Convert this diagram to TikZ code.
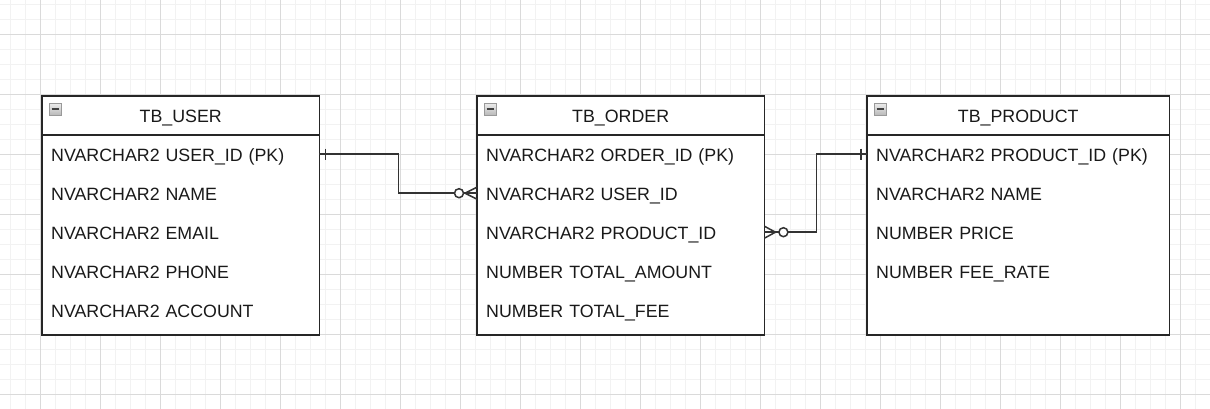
\documentclass[tikz,border=0pt]{standalone}
\usepackage{fontspec}
\setmainfont{Liberation Sans}
\usetikzlibrary{matrix,backgrounds}
\definecolor{ink}{HTML}{333333}
\definecolor{gridmajor}{HTML}{DADADA}
\definecolor{gridminor}{HTML}{F2F2F2}

\begin{document}
\begin{tikzpicture}[x=1pt,y=-1pt,
	field/.style={font=\fontsize{17.8pt}{21pt}\selectfont, text=black!90, inner xsep=9pt, inner ysep=0pt, minimum height=39pt, text height=17pt, text depth=2.2pt, align=left},
	head/.style={align=center, minimum height=38.5pt},
	tbl/.style={matrix of nodes, inner sep=0pt, row sep=0pt, anchor=north west, nodes={field, text width=#1}},
	frame/.style={draw=black!85, line width=1.5pt},
	rel/.style={draw=ink, line width=1.5pt},
	icon/.style={draw=gray!80, top color=gray!15, bottom color=gray!55, minimum size=12pt, inner sep=0pt,
		path picture={\draw[black!75, line width=1.6pt] ([xshift=-3.5pt]path picture bounding box.center) -- ([xshift=3.5pt]path picture bounding box.center);}}]
	\useasboundingbox (0,0) rectangle (1210,409);
	\coordinate (bottom) at (0,335);
	
	\matrix (user) [tbl=259pt] at (42,96) {
		|[head]| TB\_USER \\
		NVARCHAR2 USER\_ID (PK) \\
		NVARCHAR2 NAME \\
		NVARCHAR2 EMAIL \\
		NVARCHAR2 PHONE \\
		NVARCHAR2 ACCOUNT \\};
	\matrix (order) [tbl=269pt] at (477,96) {
		|[head]| TB\_ORDER \\
		NVARCHAR2 ORDER\_ID (PK) \\
		NVARCHAR2 USER\_ID \\
		NVARCHAR2 PRODUCT\_ID \\
		NUMBER TOTAL\_AMOUNT \\
		NUMBER TOTAL\_FEE \\};
	\matrix (prod) [tbl=284pt] at (867,96) {
		|[head]| TB\_PRODUCT \\
		NVARCHAR2 PRODUCT\_ID (PK) \\
		NVARCHAR2 NAME \\
		NUMBER PRICE \\
		NUMBER FEE\_RATE \\};
	
	\begin{pgfonlayer}{background}
		\fill[white] (0,0) rectangle (1210,409);
		\foreach \x in {10,25,...,1210} \draw[gridminor] (\x,0) -- (\x,409);
		\foreach \y in {4,19,...,409} \draw[gridminor] (0,\y) -- (1210,\y);
		\foreach \x in {40,100,...,1210} \draw[gridmajor] (\x,0) -- (\x,409);
		\foreach \y in {34,94,...,409} \draw[gridmajor] (0,\y) -- (1210,\y);
		\foreach \t in {user,order,prod} {
			\draw[frame, fill=white] (\t.north west) rectangle (\t.east |- bottom);
			\draw[frame] (\t-1-1.south west) -- (\t-1-1.south east);
			\node[icon, anchor=north west] (\t-icon) at ([shift={(7,7)}]\t.north west) {};
		}
	\end{pgfonlayer}
	
	% user 1 -- n order
	\draw[rel] (user-2-1.east) -- ++(79,0) |- (order-3-1.west);
	\draw[rel] ([xshift=6pt]user-2-1.east) ++(0,-5.5) -- ++(0,11);
	\draw[rel] (order-3-1.west) ++(0,-6) -- ++(-12,6) -- ++(12,6);
	\draw[rel, fill=white] ([xshift=-18pt]order-3-1.west) circle (4.5);
	
	% order n -- 1 product
	\draw[rel] (order-4-1.east) -- ++(52,0) |- (prod-2-1.west);
	\draw[rel] (order-4-1.east) ++(0,-6) -- ++(11,6) -- ++(-11,6);
	\draw[rel, fill=white] ([xshift=19pt]order-4-1.east) circle (4.5);
	\draw[rel] ([xshift=-6pt]prod-2-1.west) ++(0,-5.5) -- ++(0,11);
\end{tikzpicture}
\end{document}
